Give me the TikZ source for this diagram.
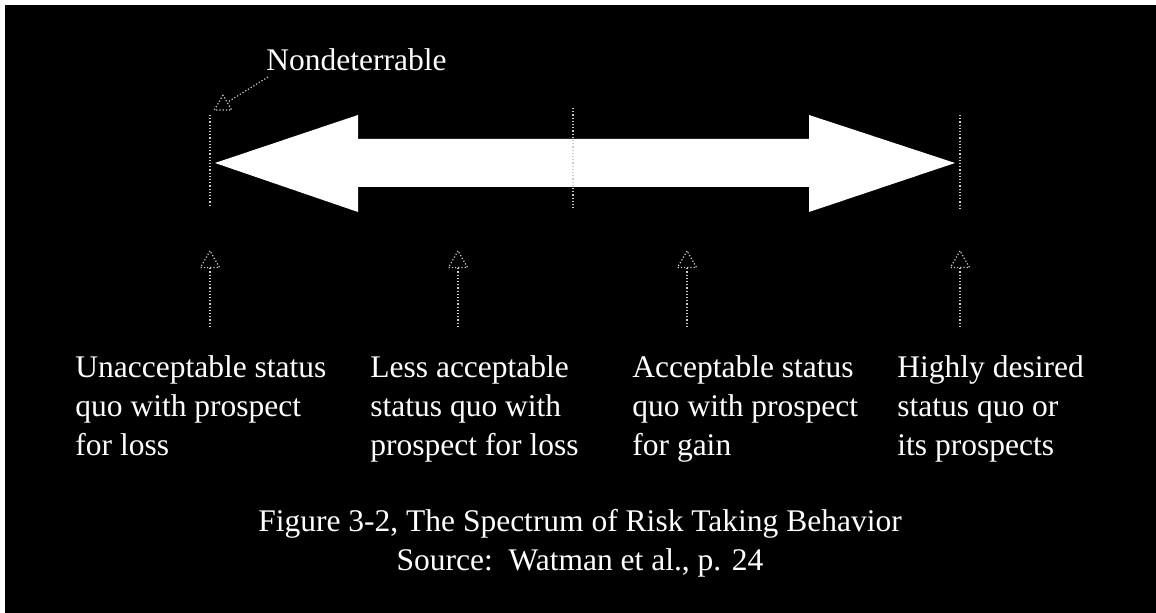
\documentclass[tikz,border=0pt]{standalone}
\usepackage{fontspec}
\setmainfont{Liberation Serif}
\usetikzlibrary{shapes.geometric}

\tikzset{
  guide/.style={draw=white!80!black, densely dotted, line width=0.6pt},
  marker/.style={regular polygon, regular polygon sides=3, draw=white!80!black,
    densely dotted, line width=0.6pt, inner sep=0pt},
  txt/.style={text=white, inner sep=0pt, font=\fontsize{15.75}{19.5}\selectfont},
  casetxt/.style={txt, align=left, anchor=north west},
}

\begin{document}
\begin{tikzpicture}[x=0.5pt,y=-0.5pt]
% frame
\useasboundingbox (0,0) rectangle (1156,613);
\fill[white] (0,0) rectangle (1156,613);
\fill[black] (5,5) rectangle (1156,613);

% double arrow
\fill[white] (215,163) -- (358,115) -- (358,139) -- (809,139) -- (809,115)
  -- (955,163) -- (809,212) -- (809,187) -- (358,187) -- (358,212) -- cycle;

% ticks
\draw[guide] (210,115) -- (210,207);
\draw[guide] (573,108) -- (573,208);
\draw[guide] (960,115) -- (960,208);

% nondeterrable
\node[txt, anchor=base west] (nondet) at (266,71) {Nondeterrable};
\node[marker, minimum size=10pt] (ndmark) at (223,105) {};
\coordinate (ndtail) at (268,77);
\draw[guide] (ndtail) -- (ndmark);

% pointers to the cases
\foreach \x/\n in {210/a,458/b,687/c,960/d}{
  \node[marker, minimum size=11pt] (m\n) at (\x,262) {};
  \coordinate (t\n) at (\x,327);
  \draw[guide] (t\n) -- (m\n.south);
}

% cases
\node[casetxt] (casea) at (75,355) {Unacceptable status\\ quo with prospect\\ for loss};
\node[casetxt] (caseb) at (370,355) {Less acceptable\\status quo with\\prospect for loss};
\node[casetxt] (casec) at (632,355) {Acceptable status\\quo with prospect\\for gain};
\node[casetxt] (cased) at (897,355) {Highly desired\\status quo or\\its prospects};

% caption
\node[txt, align=center, anchor=north] (caption) at (580,508.5)
  {Figure 3-2, The Spectrum of Risk Taking Behavior\\Source:\ \ Watman et al., p. 24};
\end{tikzpicture}
\end{document}
